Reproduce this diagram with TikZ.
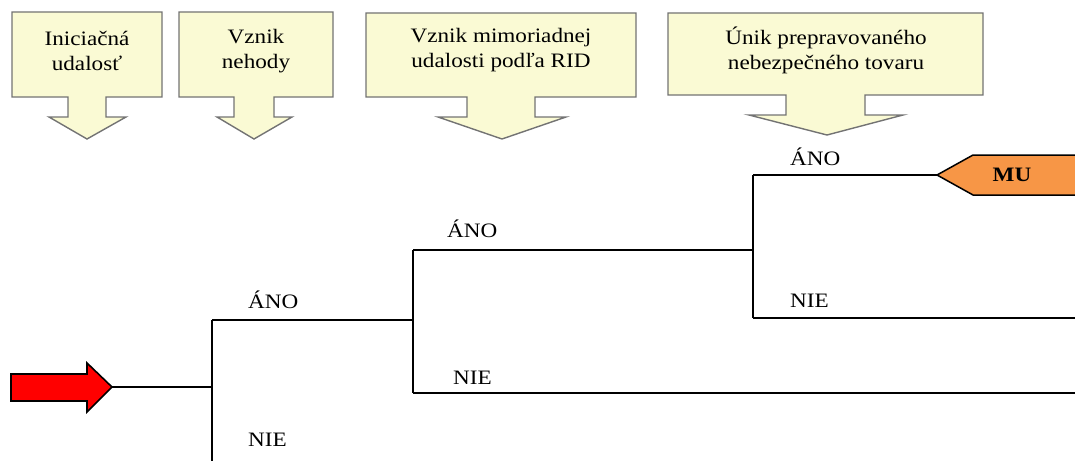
\documentclass[tikz,border=0pt]{standalone}
\usepackage{fontspec}
\setmainfont[FakeStretch=1.13]{Liberation Serif}
\definecolor{svetla}{HTML}{FAFAD4}
\definecolor{oranzova}{HTML}{F79646}
\tikzstyle{hlavicka} = [fill=svetla, draw=black!55, line width=1.4pt, line join=miter]
\tikzstyle{popis} = [align=center, font=\fontsize{20.5}{25}\selectfont, inner sep=0pt]
\tikzstyle{vetva} = [draw=black, line width=1.3pt]
\tikzstyle{stav} = [anchor=west, font=\fontsize{20.5}{24}\selectfont, inner sep=0pt]

\begin{document}
\begin{tikzpicture}[x=1pt, y=-1pt]
	\useasboundingbox (0,0) rectangle (1075,460);
	\clip (0,0) rectangle (1075,460);

	% hlavicky
	\draw[hlavicka] (12,12) -- (162,12) -- (162,97) -- (106,97) -- (106,117) -- (126,117) -- (87,139) -- (49,117) -- (68,117) -- (68,97) -- (12,97) -- cycle;
	\draw[hlavicka] (179,12) -- (333,12) -- (333,97) -- (274,97) -- (274,117) -- (292,117) -- (254,139) -- (217,117) -- (234,117) -- (234,97) -- (179,97) -- cycle;
	\draw[hlavicka] (366,13) -- (636,13) -- (636,97) -- (535,97) -- (535,117) -- (566,117) -- (502,139) -- (438,117) -- (467,117) -- (467,97) -- (366,97) -- cycle;
	\draw[hlavicka] (668,13) -- (983,13) -- (983,95) -- (865,95) -- (865,115) -- (903,115) -- (827,135) -- (749,115) -- (786,115) -- (786,95) -- (668,95) -- cycle;

	\node (iniciacna) [popis] at (87,51)  {Iniciačná\\udalosť};
	\node (nehoda)    [popis] at (256,51) {Vznik\\nehody};
	\node (mimoriadna)[popis] at (501,50) {Vznik mimoriadnej\\udalosti podľa RID};
	\node (unik)      [popis] at (826,50) {Únik prepravovaného\\nebezpečného tovaru};

	% strom udalosti
	\draw[fill=red, draw=black, line width=1.6pt, line join=miter] (11,374) -- (87,374) -- (87,363) -- (112,387) -- (87,412) -- (87,401) -- (11,401) -- cycle;
	\coordinate (zdroj) at (112,387);
	\coordinate (u1)  at (212,387);
	\coordinate (u1a) at (212,320);
	\coordinate (u1n) at (212,463);
	\coordinate (u2a) at (413,250);
	\coordinate (u2)  at (413,320);
	\coordinate (u2n) at (413,393);
	\coordinate (u3a) at (753,175);
	\coordinate (u3)  at (753,250);
	\coordinate (u3n) at (753,318);
	\coordinate (k1n) at (1080,463);
	\coordinate (k2n) at (1080,393);
	\coordinate (k3n) at (1080,318);

	\draw[fill=oranzova, draw=black, line width=1.5pt, line join=miter] (937,175) -- (973,155) -- (1085,155) -- (1085,195) -- (973,195) -- cycle;
	\coordinate (mu) at (937,175);
	\node (mutext) [font=\fontsize{20.5}{24}\selectfont\bfseries] at (1012,175) {MU};

	\draw[vetva] (zdroj) -- (u1);
	\draw[vetva] (u1a) -- (u1n);
	\draw[vetva] (u1a) -- (u2);
	\draw[vetva] (u2a) -- (u2n);
	\draw[vetva] (u2a) -- (u3);
	\draw[vetva] (u3a) -- (u3n);
	\draw[vetva] (u3a) -- (mu);
	\draw[vetva] (u3n) -- (k3n);
	\draw[vetva] (u2n) -- (k2n);
	\draw[vetva] (u1n) -- (k1n);

	\node (ano1) [stav] at (248,300) {ÁNO};
	\node (nie1) [stav] at (248,440) {NIE};
	\node (ano2) [stav] at (447,229) {ÁNO};
	\node (nie2) [stav] at (453,378) {NIE};
	\node (ano3) [stav] at (790,157) {ÁNO};
	\node (nie3) [stav] at (790,301) {NIE};
\end{tikzpicture}
\end{document}
